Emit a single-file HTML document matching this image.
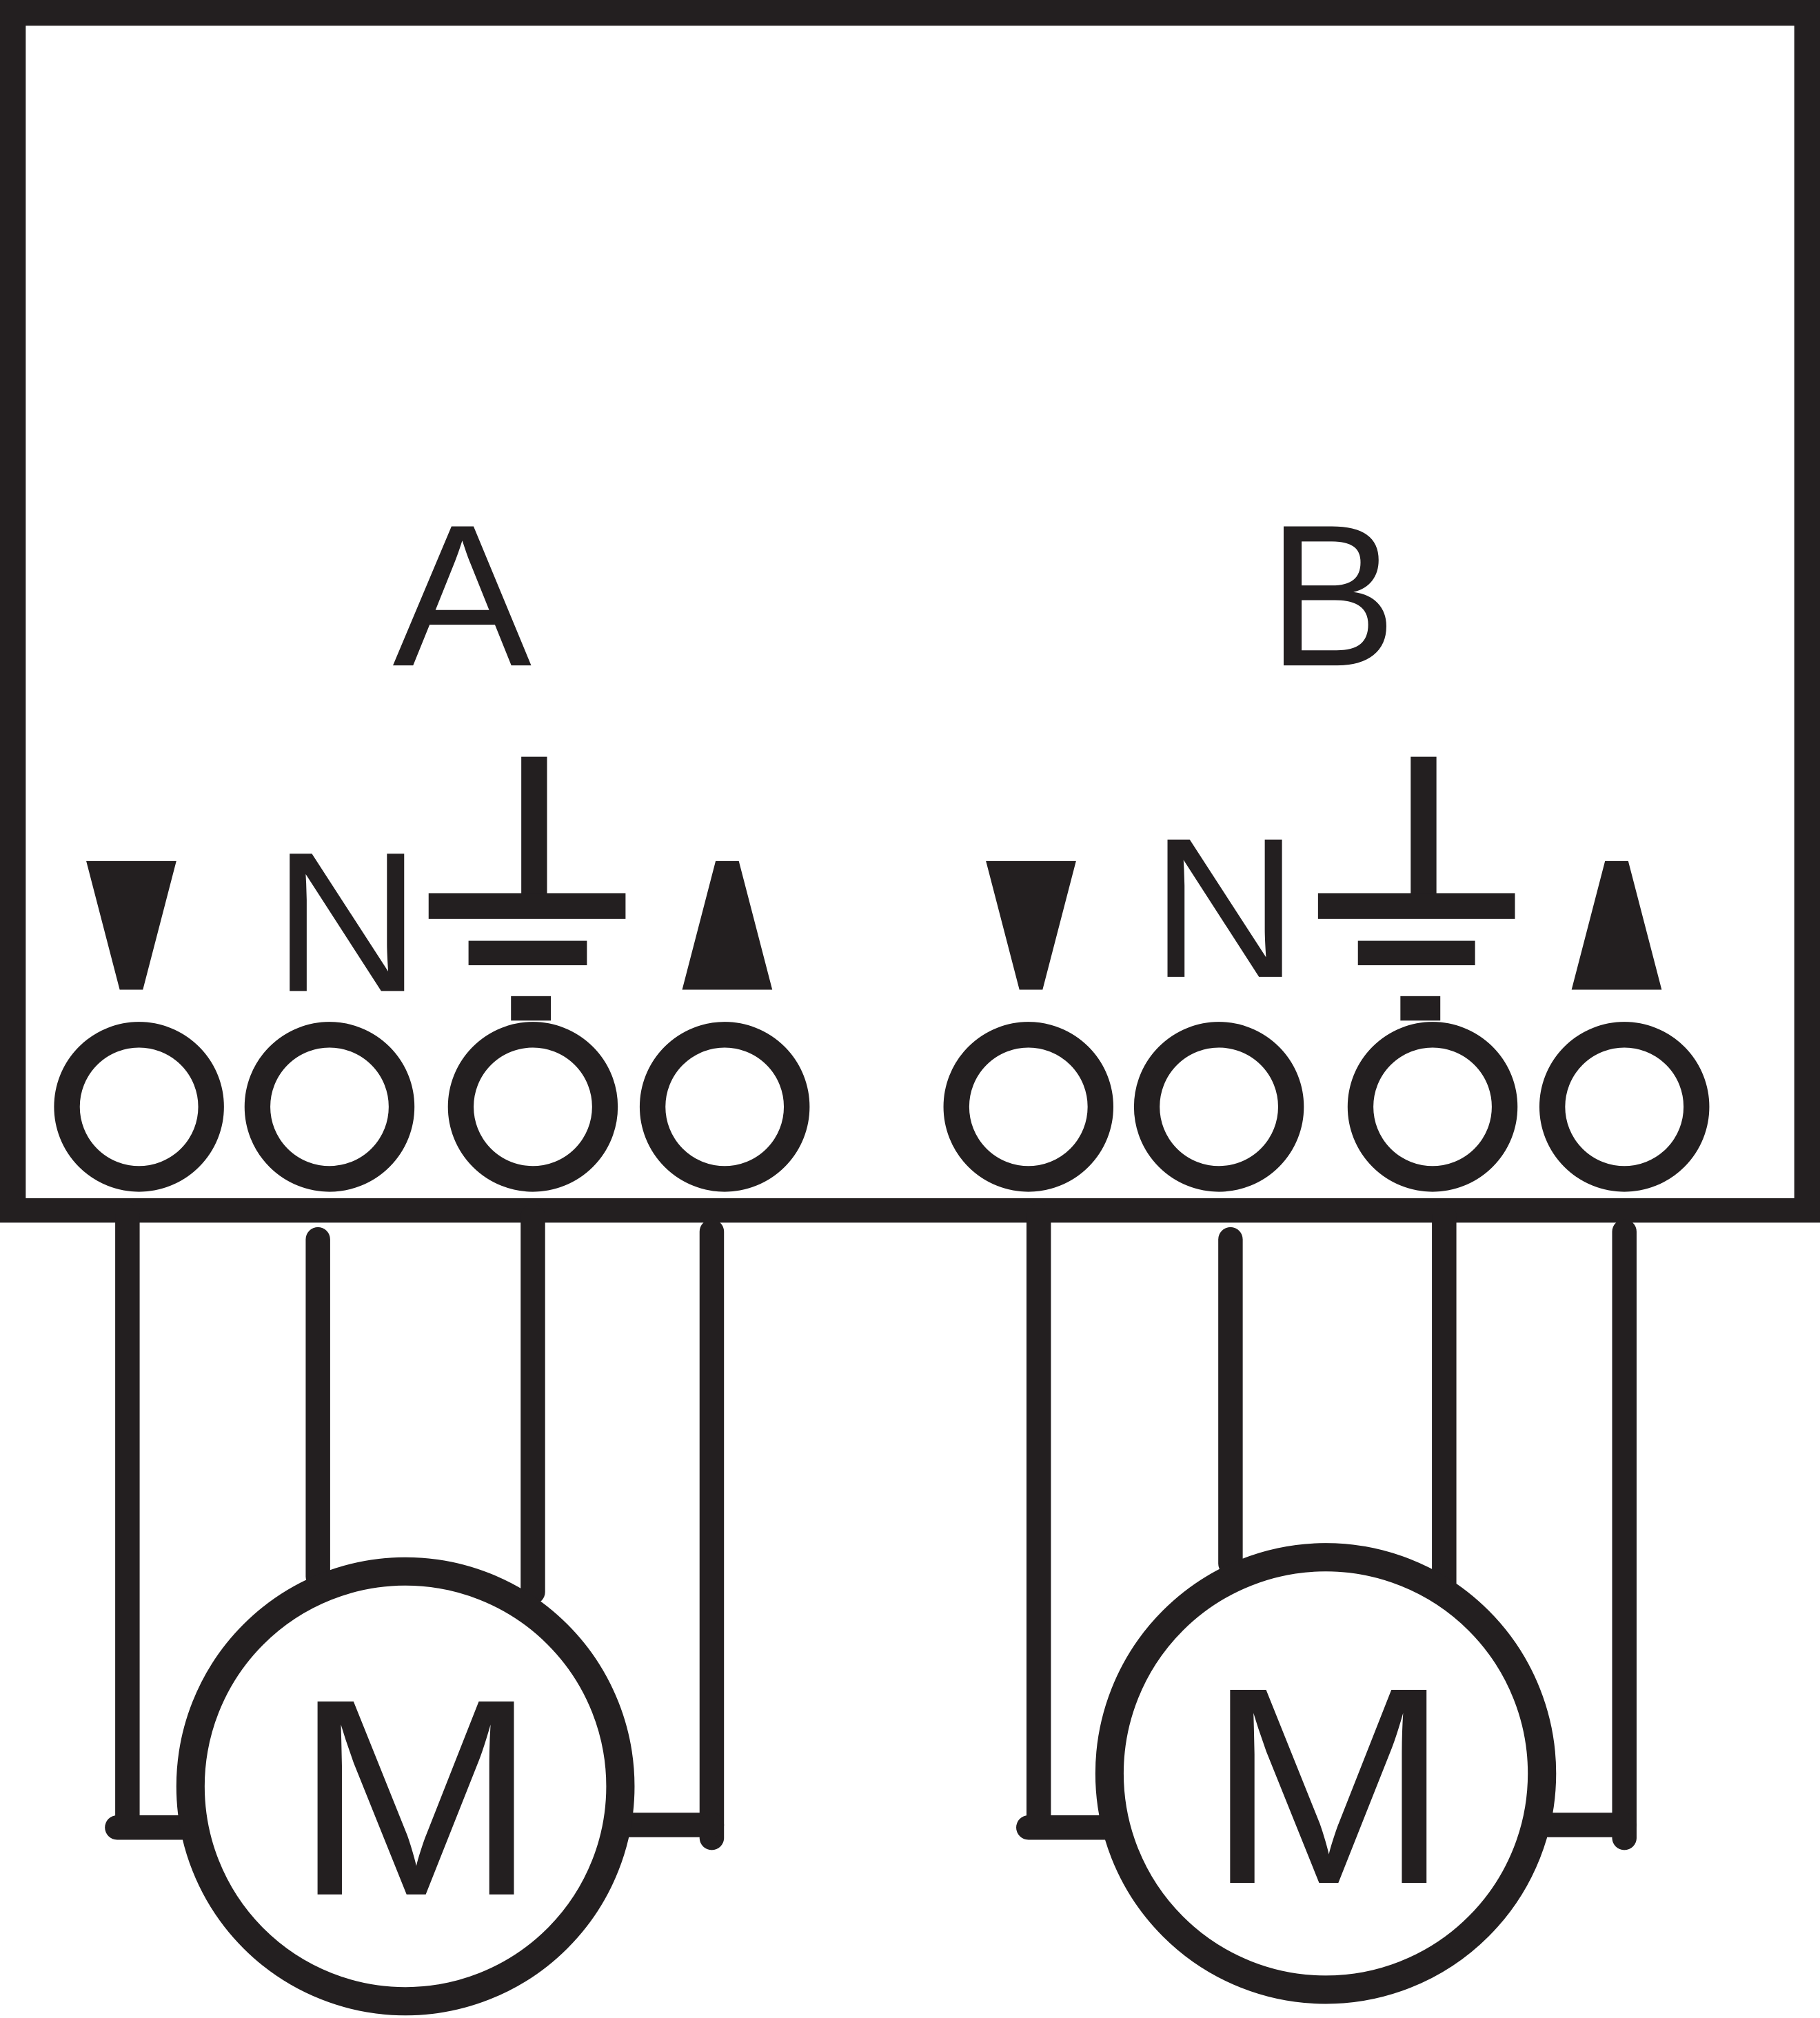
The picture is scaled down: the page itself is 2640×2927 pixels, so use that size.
<!DOCTYPE html>
<html><head><meta charset="utf-8"><style>
html,body{margin:0;padding:0;background:#fff;}
svg{display:block;}
</style></head><body>
<svg width="2640" height="2927" viewBox="0 0 1414 1568" preserveAspectRatio="none" xmlns="http://www.w3.org/2000/svg">
<g fill="#231f20" stroke="none">
<rect x="0" y="0" width="1414" height="950"/>
<rect x="20" y="20" width="1374" height="911" fill="#fff"/>
</g>
<g fill="#231f20" font-family="Liberation Sans, sans-serif">
<text x="305" y="517" font-size="157" textLength="108" lengthAdjust="spacingAndGlyphs">A</text>
<text x="985" y="517" font-size="157" textLength="100" lengthAdjust="spacingAndGlyphs">B</text>
<text x="212" y="770" font-size="155" textLength="115" lengthAdjust="spacingAndGlyphs">N</text>
<text x="894" y="759" font-size="155" textLength="115" lengthAdjust="spacingAndGlyphs">N</text>
<polygon points="67,669 137,669 111,769 93,769"/>
<rect x="405" y="588" width="20" height="106"/>
<rect x="333" y="694" width="153" height="20"/>
<rect x="364" y="731" width="92" height="19"/>
<rect x="397" y="774" width="31" height="19"/>
<polygon points="530,769 600,769 574,669 556,669"/>
<polygon points="766,669 836,669 810,769 792,769"/>
<rect x="1096" y="588" width="20" height="106"/>
<rect x="1024" y="694" width="153" height="20"/>
<rect x="1055" y="731" width="91" height="19"/>
<rect x="1088" y="774" width="31" height="19"/>
<polygon points="1221,769 1291,769 1265,669 1247,669"/>
</g>
<g fill="#fff" stroke="#231f20" stroke-width="20">
<circle cx="108" cy="860" r="56"/>
<circle cx="256" cy="860" r="56"/>
<circle cx="414" cy="860" r="56"/>
<circle cx="563" cy="860" r="56"/>
<circle cx="799" cy="860" r="56"/>
<circle cx="947" cy="860" r="56"/>
<circle cx="1113" cy="860" r="56"/>
<circle cx="1262" cy="860" r="56"/>
</g>
<g stroke="#231f20" stroke-width="19" stroke-linecap="round" fill="none">
<line x1="99" y1="945" x2="99" y2="1420"/>
<line x1="91" y1="1420" x2="155" y2="1420"/>
<line x1="247" y1="963" x2="247" y2="1225"/>
<line x1="414" y1="945" x2="414" y2="1237"/>
<line x1="553" y1="957" x2="553" y2="1428"/>
<line x1="485" y1="1418" x2="553" y2="1418"/>
<line x1="807" y1="945" x2="807" y2="1420"/>
<line x1="799" y1="1420" x2="862" y2="1420"/>
<line x1="956" y1="963" x2="956" y2="1215"/>
<line x1="1122" y1="945" x2="1122" y2="1235"/>
<line x1="1262" y1="957" x2="1262" y2="1428"/>
<line x1="1195" y1="1418" x2="1262" y2="1418"/>
</g>
<g fill="#fff" stroke="#231f20" stroke-width="22" stroke-linejoin="round">
<circle cx="315" cy="1388" r="167"/>
<circle cx="1030" cy="1378" r="168"/>
</g>
<g fill="#231f20" font-family="Liberation Sans, sans-serif">
<text x="228" y="1472" font-size="218" textLength="190" lengthAdjust="spacingAndGlyphs">M</text>
<text x="937" y="1463" font-size="218" textLength="190" lengthAdjust="spacingAndGlyphs">M</text>
</g>
</svg>
</body></html>
